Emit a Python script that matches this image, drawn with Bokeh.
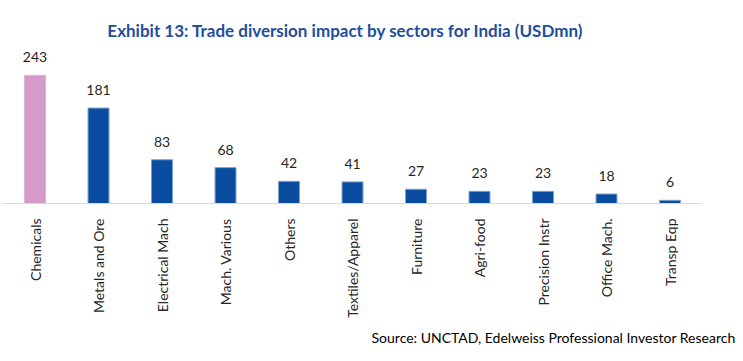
from bokeh.plotting import figure
from bokeh.models import ColumnDataSource, Label, FixedTicker, Range1d, Title
from bokeh.core.properties import value
from bokeh.embed import file_html
from bokeh.resources import INLINE
import math

categories = ["Chemicals", "Metals and Ore", "Electrical Mach", "Mach. Various", "Others",
              "Textiles/Apparel", "Furniture", "Agri-food", "Precision Instr", "Office Mach.", "Transp Eqp"]
values = [243, 181, 83, 68, 42, 41, 27, 23, 23, 18, 6]
colors = ["#D59AC7"] + ["#0A4C9F"] * 10
line_colors = ["#DDB3D4"] + ["#7E9FCC"] * 10

FONT = "Lato"
idx = list(range(len(categories)))
src = ColumnDataSource(dict(x=idx, top=values, color=colors, lc=line_colors,
                            label=[str(v) for v in values]))

p = figure(width=743, height=361, output_backend="svg", toolbar_location=None,
           x_range=Range1d(-0.512, 10.496), y_range=Range1d(0, 385),
           min_border_left=2, min_border_right=42, min_border_top=0, min_border_bottom=158)
p.outline_line_color = None
p.grid.visible = False
p.yaxis.visible = False

p.vbar(x="x", top="top", width=0.33, fill_color="color", line_color="lc", line_width=1, source=src)
p.text(x="x", y="top", text="label", source=src, text_align="center", text_baseline="alphabetic",
       y_offset=-18, text_font=value(FONT), text_font_size="14px", text_color="#262626")

ax = p.xaxis[0]
ax.ticker = FixedTicker(ticks=idx)
ax.major_label_overrides = {i: c for i, c in enumerate(categories)}
ax.major_label_orientation = math.pi / 2
ax.major_tick_line_color = None
ax.minor_tick_line_color = None
ax.axis_line_color = "#D9D9D9"
ax.axis_line_width = 1
ax.major_label_standoff = 9
ax.major_label_text_font = FONT
ax.major_label_text_font_size = "14px"
ax.major_label_text_color = "#262626"

title = Label(x=4.89, y=328, text="Exhibit 13: Trade diversion impact by sectors for India (USDmn)",
              text_align="center", text_baseline="middle", text_font=FONT,
              text_font_style="bold", text_font_size="17px", text_color="#1F4E9C")
p.add_layout(title)

source = Title(text="Source: UNCTAD, Edelweiss Professional Investor Research",
               align="right", offset=-34, text_font=FONT, text_font_style="normal",
               text_font_size="14px", text_color="#000000", standoff=12)
p.add_layout(source, "below")

open("out.html", "w").write(file_html(p, INLINE))
